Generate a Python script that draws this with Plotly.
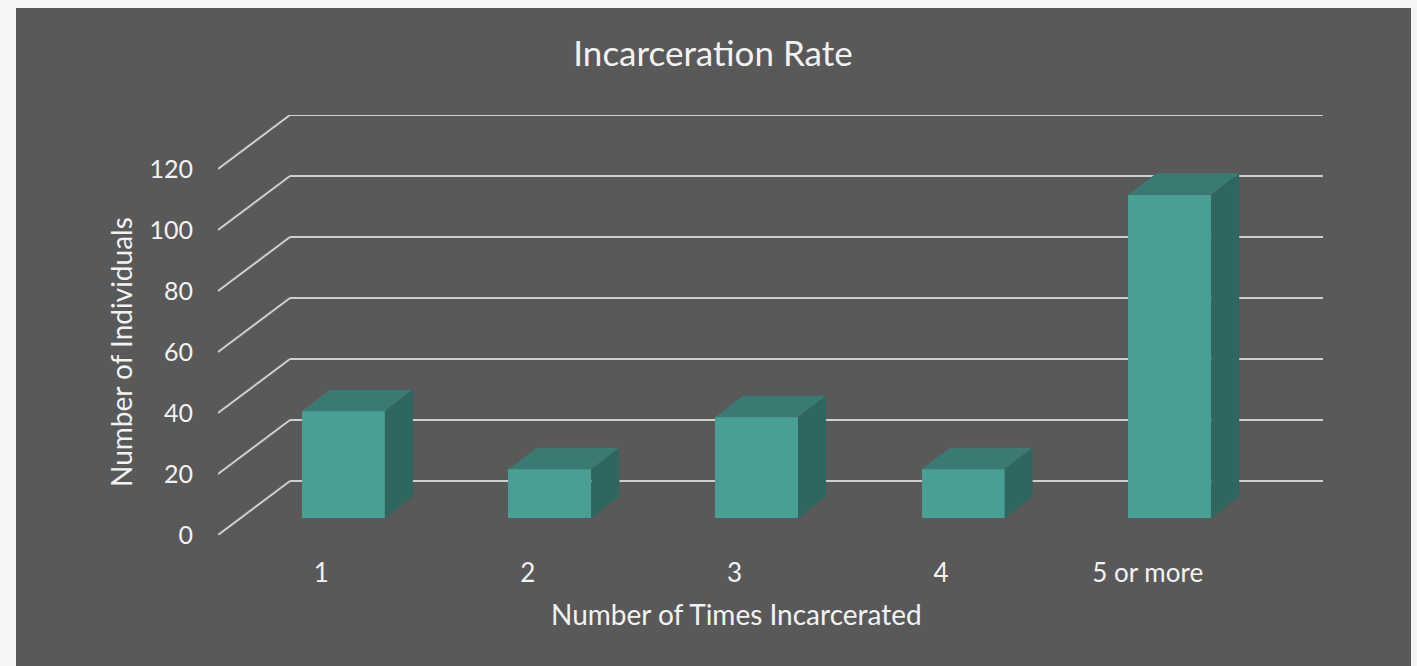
import plotly.graph_objects as go

# ---- data ----
categories = ["1", "2", "3", "4", "5 or more"]
individuals = [35, 16, 33, 16, 106]
y_ticks = [0, 20, 40, 60, 80, 100, 120]

# ---- pseudo-3D geometry, in axis units ----
W, H = 1417, 666
PLOT_L, PLOT_R, PLOT_T, PLOT_B = 218, 1323, 115, 535
PX_X = 206.6      # pixels per category
PX_Y = 3.05       # pixels per individual
WALL_DX, WALL_DY = 72 / PX_X, 54 / PX_Y      # front plane -> back wall
BAR_DX, BAR_DY = 22 / PX_X, 17 / PX_Y        # front plane -> bar front face
DEPTH_DX, DEPTH_DY = 28 / PX_X, 21.5 / PX_Y  # bar front face -> bar back face
BAR_W = 83 / PX_X

PANEL = "#595959"
FRONT, TOP, SIDE = "#4a9f94", "#3b7a72", "#2f665f"
GRID = "#cfcfcf"
TEXT = "#f2f2f2"
FONT = "Lato"

idx = list(range(len(categories)))
fig = go.Figure()

# front faces
fig.add_trace(go.Bar(
    x=[i + BAR_DX for i in idx], y=individuals, base=BAR_DY, width=BAR_W,
    marker=dict(color=FRONT, line=dict(width=0)), showlegend=False, hoverinfo="skip",
))

# top and side faces
for i, v in zip(idx, individuals):
    x0 = i + BAR_DX - BAR_W / 2
    x1 = i + BAR_DX + BAR_W / 2
    y0 = BAR_DY
    y1 = BAR_DY + v
    fig.add_trace(go.Scatter(
        x=[x0, x1, x1 + DEPTH_DX, x0 + DEPTH_DX, x0],
        y=[y1, y1, y1 + DEPTH_DY, y1 + DEPTH_DY, y1],
        mode="lines", fill="toself", fillcolor=TOP, line=dict(width=0),
        showlegend=False, hoverinfo="skip",
    ))
    fig.add_trace(go.Scatter(
        x=[x1, x1 + DEPTH_DX, x1 + DEPTH_DX, x1, x1],
        y=[y0, y0 + DEPTH_DY, y1 + DEPTH_DY, y1, y0],
        mode="lines", fill="toself", fillcolor=SIDE, line=dict(width=0),
        showlegend=False, hoverinfo="skip",
    ))

x_min = -0.5
x_max = len(categories) - 0.5 + WALL_DX

# paper coordinates are relative to the plot area
plot_w, plot_h = PLOT_R - PLOT_L, PLOT_B - PLOT_T
shapes = [
    dict(type="rect", xref="paper", yref="paper",
         x0=(16 - PLOT_L) / plot_w, x1=(1411 - PLOT_L) / plot_w,
         y0=(PLOT_B - H) / plot_h, y1=(PLOT_B - 8) / plot_h,
         fillcolor=PANEL, line=dict(width=0), layer="below"),
]
for t in y_ticks:
    shapes.append(dict(type="line", xref="x", yref="y", x0=x_min, y0=t,
                       x1=x_min + WALL_DX, y1=t + WALL_DY,
                       line=dict(color=GRID, width=2), layer="below"))
    shapes.append(dict(type="line", xref="x", yref="y", x0=x_min + WALL_DX, y0=t + WALL_DY,
                       x1=x_max, y1=t + WALL_DY,
                       line=dict(color=GRID, width=2), layer="below"))

# axis titles sit on the front plane, not the centre of the whole plot area
annotations = [
    dict(text="Number of Times Incarcerated", xref="paper", yref="paper",
         x=(736 - PLOT_L) / plot_w, y=(PLOT_B - 614) / plot_h,
         xanchor="center", yanchor="middle", showarrow=False,
         font=dict(family=FONT, size=28, color=TEXT)),
    dict(text="Number of Individuals", xref="paper", yref="paper",
         x=(121 - PLOT_L) / plot_w, y=(PLOT_B - 352) / plot_h,
         xanchor="center", yanchor="middle", showarrow=False, textangle=-90,
         font=dict(family=FONT, size=28, color=TEXT)),
]

fig.update_layout(
    width=W, height=H, autosize=False,
    margin=dict(l=PLOT_L, r=W - PLOT_R, t=PLOT_T, b=H - PLOT_B, autoexpand=False),
    paper_bgcolor="#f5f5f5", plot_bgcolor="rgba(0,0,0,0)",
    showlegend=False, shapes=shapes, annotations=annotations, bargap=0,
    font=dict(family=FONT, color=TEXT),
    title=dict(text="Incarceration Rate", x=713 / W, xanchor="center",
               y=1 - 54 / H, yanchor="middle",
               font=dict(family=FONT, size=35, color=TEXT)),
    xaxis=dict(range=[x_min, x_max], tickmode="array", tickvals=idx, ticktext=categories,
               showgrid=False, zeroline=False, showline=False, ticks="",
               tickfont=dict(family=FONT, size=26, color=TEXT), ticklabelstandoff=20),
    yaxis=dict(range=[0, 120 + WALL_DY], tickmode="array", tickvals=y_ticks,
               showgrid=False, zeroline=False, showline=False, ticks="",
               tickfont=dict(family=FONT, size=25, color=TEXT), ticklabelstandoff=24),
)

fig.write_html("out.html", config=dict(displayModeBar=False), post_script=(
    "document.body.style.margin='0';"
    "document.body.style.background='#f5f5f5';"
    "document.body.style.overflow='hidden';"
))
